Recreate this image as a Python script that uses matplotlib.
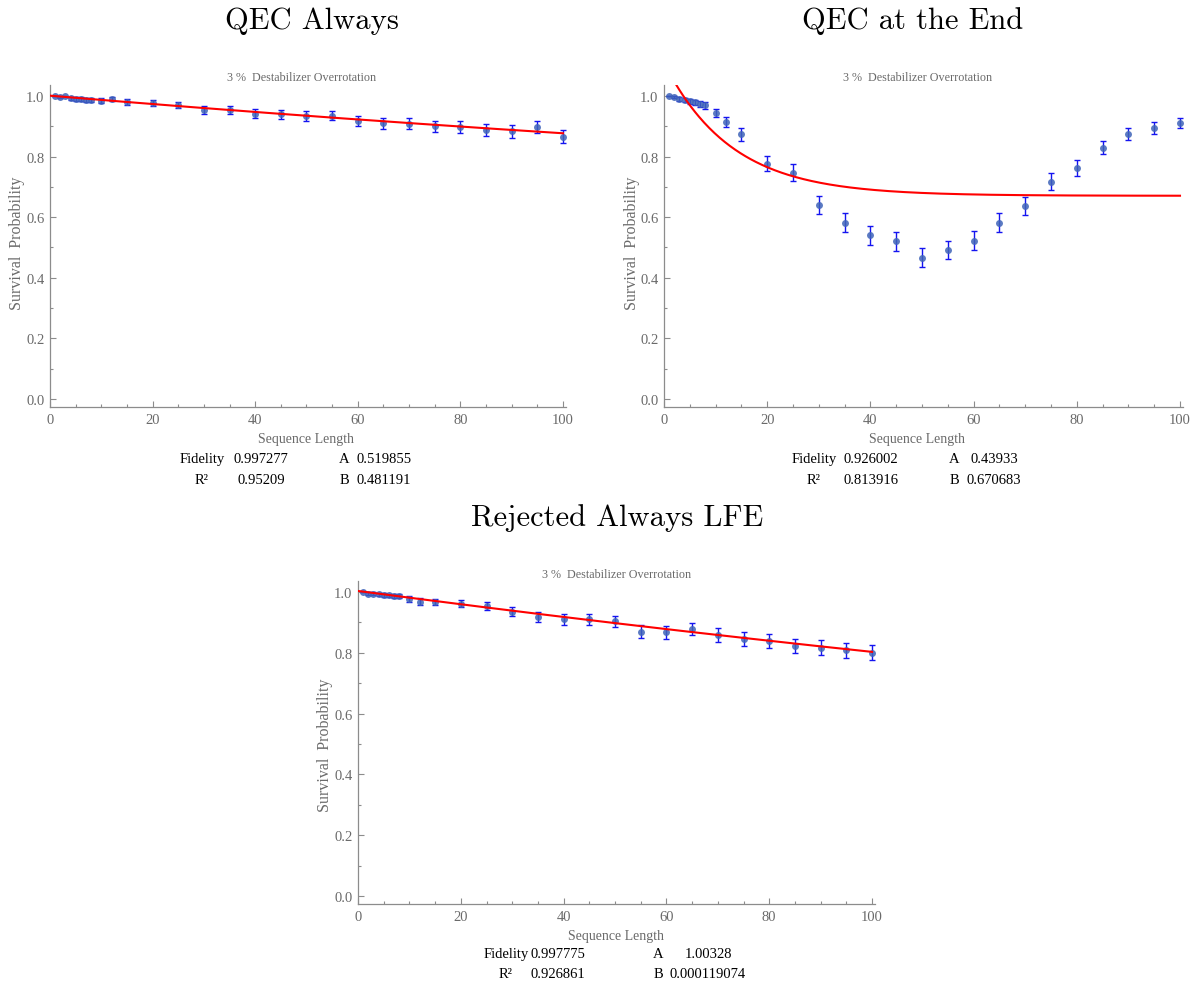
import numpy as np
import matplotlib
matplotlib.use("Agg")
import matplotlib.pyplot as plt
from matplotlib.ticker import MultipleLocator

W, H = 1201, 987

# Sequence lengths used in every run
seq_len = [1, 2, 3, 4, 5, 6, 7, 8, 10, 12, 15, 20, 25, 30, 35, 40, 45, 50,
           55, 60, 65, 70, 75, 80, 85, 90, 95, 100]

# QEC Always
qec_always = [1.000, 0.997, 0.999, 0.992, 0.991, 0.991, 0.988, 0.986, 0.985,
              0.990, 0.980, 0.977, 0.971, 0.954, 0.953, 0.941, 0.940, 0.934,
              0.935, 0.918, 0.910, 0.909, 0.900, 0.898, 0.888, 0.883, 0.898,
              0.866]
qec_always_err = [0.000, 0.003, 0.002, 0.006, 0.006, 0.006, 0.007, 0.007,
                  0.008, 0.006, 0.009, 0.009, 0.010, 0.013, 0.013, 0.015,
                  0.015, 0.015, 0.015, 0.017, 0.018, 0.018, 0.019, 0.019,
                  0.020, 0.020, 0.019, 0.021]
qec_always_fit = {"Fidelity": "0.997277", "A": "0.519855",
                  "R2": "0.95209", "B": "0.481191"}

# QEC at the End
qec_end = [1.000, 0.998, 0.991, 0.987, 0.982, 0.979, 0.975, 0.969, 0.944,
           0.915, 0.873, 0.777, 0.747, 0.640, 0.582, 0.540, 0.521, 0.466,
           0.492, 0.523, 0.582, 0.638, 0.717, 0.762, 0.830, 0.875, 0.894,
           0.911]
qec_end_err = [0.000, 0.003, 0.006, 0.007, 0.008, 0.009, 0.010, 0.011,
               0.014, 0.017, 0.021, 0.026, 0.027, 0.030, 0.031, 0.031,
               0.031, 0.031, 0.031, 0.031, 0.031, 0.030, 0.028, 0.026,
               0.023, 0.021, 0.019, 0.018]
qec_end_fit = {"Fidelity": "0.926002", "A": "0.43933",
               "R2": "0.813916", "B": "0.670683"}

# Rejected Always LFE
rejected = [1.000, 0.994, 0.995, 0.993, 0.991, 0.989, 0.987, 0.988, 0.977,
            0.968, 0.967, 0.962, 0.955, 0.935, 0.918, 0.910, 0.911, 0.903,
            0.869, 0.867, 0.878, 0.858, 0.846, 0.840, 0.822, 0.817, 0.808,
            0.800]
rejected_err = [0.000, 0.005, 0.004, 0.005, 0.006, 0.006, 0.007, 0.007,
                0.009, 0.011, 0.011, 0.012, 0.013, 0.015, 0.017, 0.018,
                0.018, 0.018, 0.021, 0.021, 0.020, 0.022, 0.022, 0.023,
                0.024, 0.024, 0.024, 0.025]
rejected_fit = {"Fidelity": "0.997775", "A": "1.00328",
                "R2": "0.926861", "B": "0.000119074"}

SERIF = "Liberation Serif"
GRAY = "#6a6a6a"
AXIS_GRAY = "#8c8c8c"
POINT_COLOR = "#3f64b8"
BAR_COLOR = "#1414f0"

fig = plt.figure(figsize=(W / 100, H / 100), dpi=100)


def make_axes(x0_px, x100_px, y1_px, y0_px):
    """Place an axes so that x=0..100 and y=0..1 land on the given pixels."""
    ppu_x = (x100_px - x0_px) / 100.0
    ppu_y = (y0_px - y1_px)
    xlo, xhi = 0.0, 100.5
    ylo, yhi = -0.027, 1.035
    left = x0_px + xlo * ppu_x
    right = x0_px + xhi * ppu_x
    top = y0_px - yhi * ppu_y
    bottom = y0_px - ylo * ppu_y
    ax = fig.add_axes([left / W, 1 - bottom / H, (right - left) / W,
                       (bottom - top) / H])
    ax.set_xlim(xlo, xhi)
    ax.set_ylim(ylo, yhi)
    for side in ("top", "right"):
        ax.spines[side].set_visible(False)
    for side in ("left", "bottom"):
        ax.spines[side].set_color(AXIS_GRAY)
        ax.spines[side].set_linewidth(0.9)
    ax.xaxis.set_major_locator(MultipleLocator(20))
    ax.xaxis.set_minor_locator(MultipleLocator(5))
    ax.yaxis.set_major_locator(MultipleLocator(0.2))
    ax.yaxis.set_minor_locator(MultipleLocator(0.1))
    ax.tick_params(which="both", direction="in", color=AXIS_GRAY,
                   labelcolor=GRAY, labelsize=10.5, width=0.8)
    ax.tick_params(which="major", length=4, pad=4)
    ax.tick_params(which="minor", length=2)
    ax.yaxis.set_major_formatter(matplotlib.ticker.FormatStrFormatter("%.1f"))
    for lab in ax.get_xticklabels() + ax.get_yticklabels():
        lab.set_fontfamily(SERIF)
    return ax


def draw_panel(ax, values, errors, fit):
    ax.errorbar(seq_len, values, yerr=errors, fmt="none", ecolor=BAR_COLOR,
                elinewidth=1.0, capsize=2.2, capthick=1.0, zorder=3,
                clip_on=False)
    ax.plot(seq_len, values, "o", color=POINT_COLOR, markersize=5.0,
            markeredgewidth=0, alpha=0.85, zorder=4, clip_on=False)
    F = float(fit["Fidelity"])
    A = float(fit["A"])
    B = float(fit["B"])
    xs = np.linspace(0, 100, 400)
    ax.plot(xs, A * F ** xs + B, color="#ff0000", lw=1.5, zorder=5)


def fit_table(col_x, row_y, fit):
    c1, c2, c3, c4 = col_x
    r1, r2 = row_y
    kw = dict(ha="center", va="center", fontsize=10.5, family=SERIF,
              color="black")
    fig.text(c1 / W, 1 - r1 / H, "Fidelity", **kw)
    fig.text(c2 / W, 1 - r1 / H, fit["Fidelity"], **kw)
    fig.text(c3 / W, 1 - r1 / H, "A", **kw)
    fig.text(c4 / W, 1 - r1 / H, fit["A"], **kw)
    fig.text(c1 / W, 1 - r2 / H, "R²", **kw)
    fig.text(c2 / W, 1 - r2 / H, fit["R2"], **kw)
    fig.text(c3 / W, 1 - r2 / H, "B", **kw)
    fig.text(c4 / W, 1 - r2 / H, fit["B"], **kw)


def labels(title_xy, sub_xy, xlab_xy, ylab_xy, title):
    fig.text(title_xy[0] / W, 1 - title_xy[1] / H, title, ha="center",
             va="center", fontsize=22, family="cmr10", color="black")
    fig.text(sub_xy[0] / W, 1 - sub_xy[1] / H,
             "3 %  Destabilizer Overrotation", ha="center", va="center",
             fontsize=8.7, family=SERIF, color=GRAY)
    fig.text(xlab_xy[0] / W, 1 - xlab_xy[1] / H, "Sequence Length",
             ha="center", va="center", fontsize=10, family=SERIF,
             color=GRAY)
    fig.text(ylab_xy[0] / W, 1 - ylab_xy[1] / H, "Survival  Probability",
             ha="center", va="center", fontsize=11.5, family=SERIF,
             color=GRAY, rotation=90)


# QEC Always
ax1 = make_axes(50, 563, 97, 400)
draw_panel(ax1, qec_always, qec_always_err, qec_always_fit)
labels((312, 21), (302, 78), (306, 440), (17, 243), "QEC Always")
fit_table((202, 261, 344, 384), (460, 480), qec_always_fit)

# QEC at the End
ax2 = make_axes(664, 1180, 97, 400)
draw_panel(ax2, qec_end, qec_end_err, qec_end_fit)
labels((913, 21), (918, 78), (917, 440), (632, 243), "QEC at the End")
fit_table((814, 871, 954, 994), (460, 480), qec_end_fit)

# Rejected Always LFE
ax3 = make_axes(358, 872, 593, 897)
draw_panel(ax3, rejected, rejected_err, rejected_fit)
labels((617, 518), (617, 575), (616, 937), (325, 745), "Rejected Always LFE")
fit_table((506, 558, 658, 708), (955, 975), rejected_fit)

fig.savefig("out.png", dpi=100, facecolor="white")
